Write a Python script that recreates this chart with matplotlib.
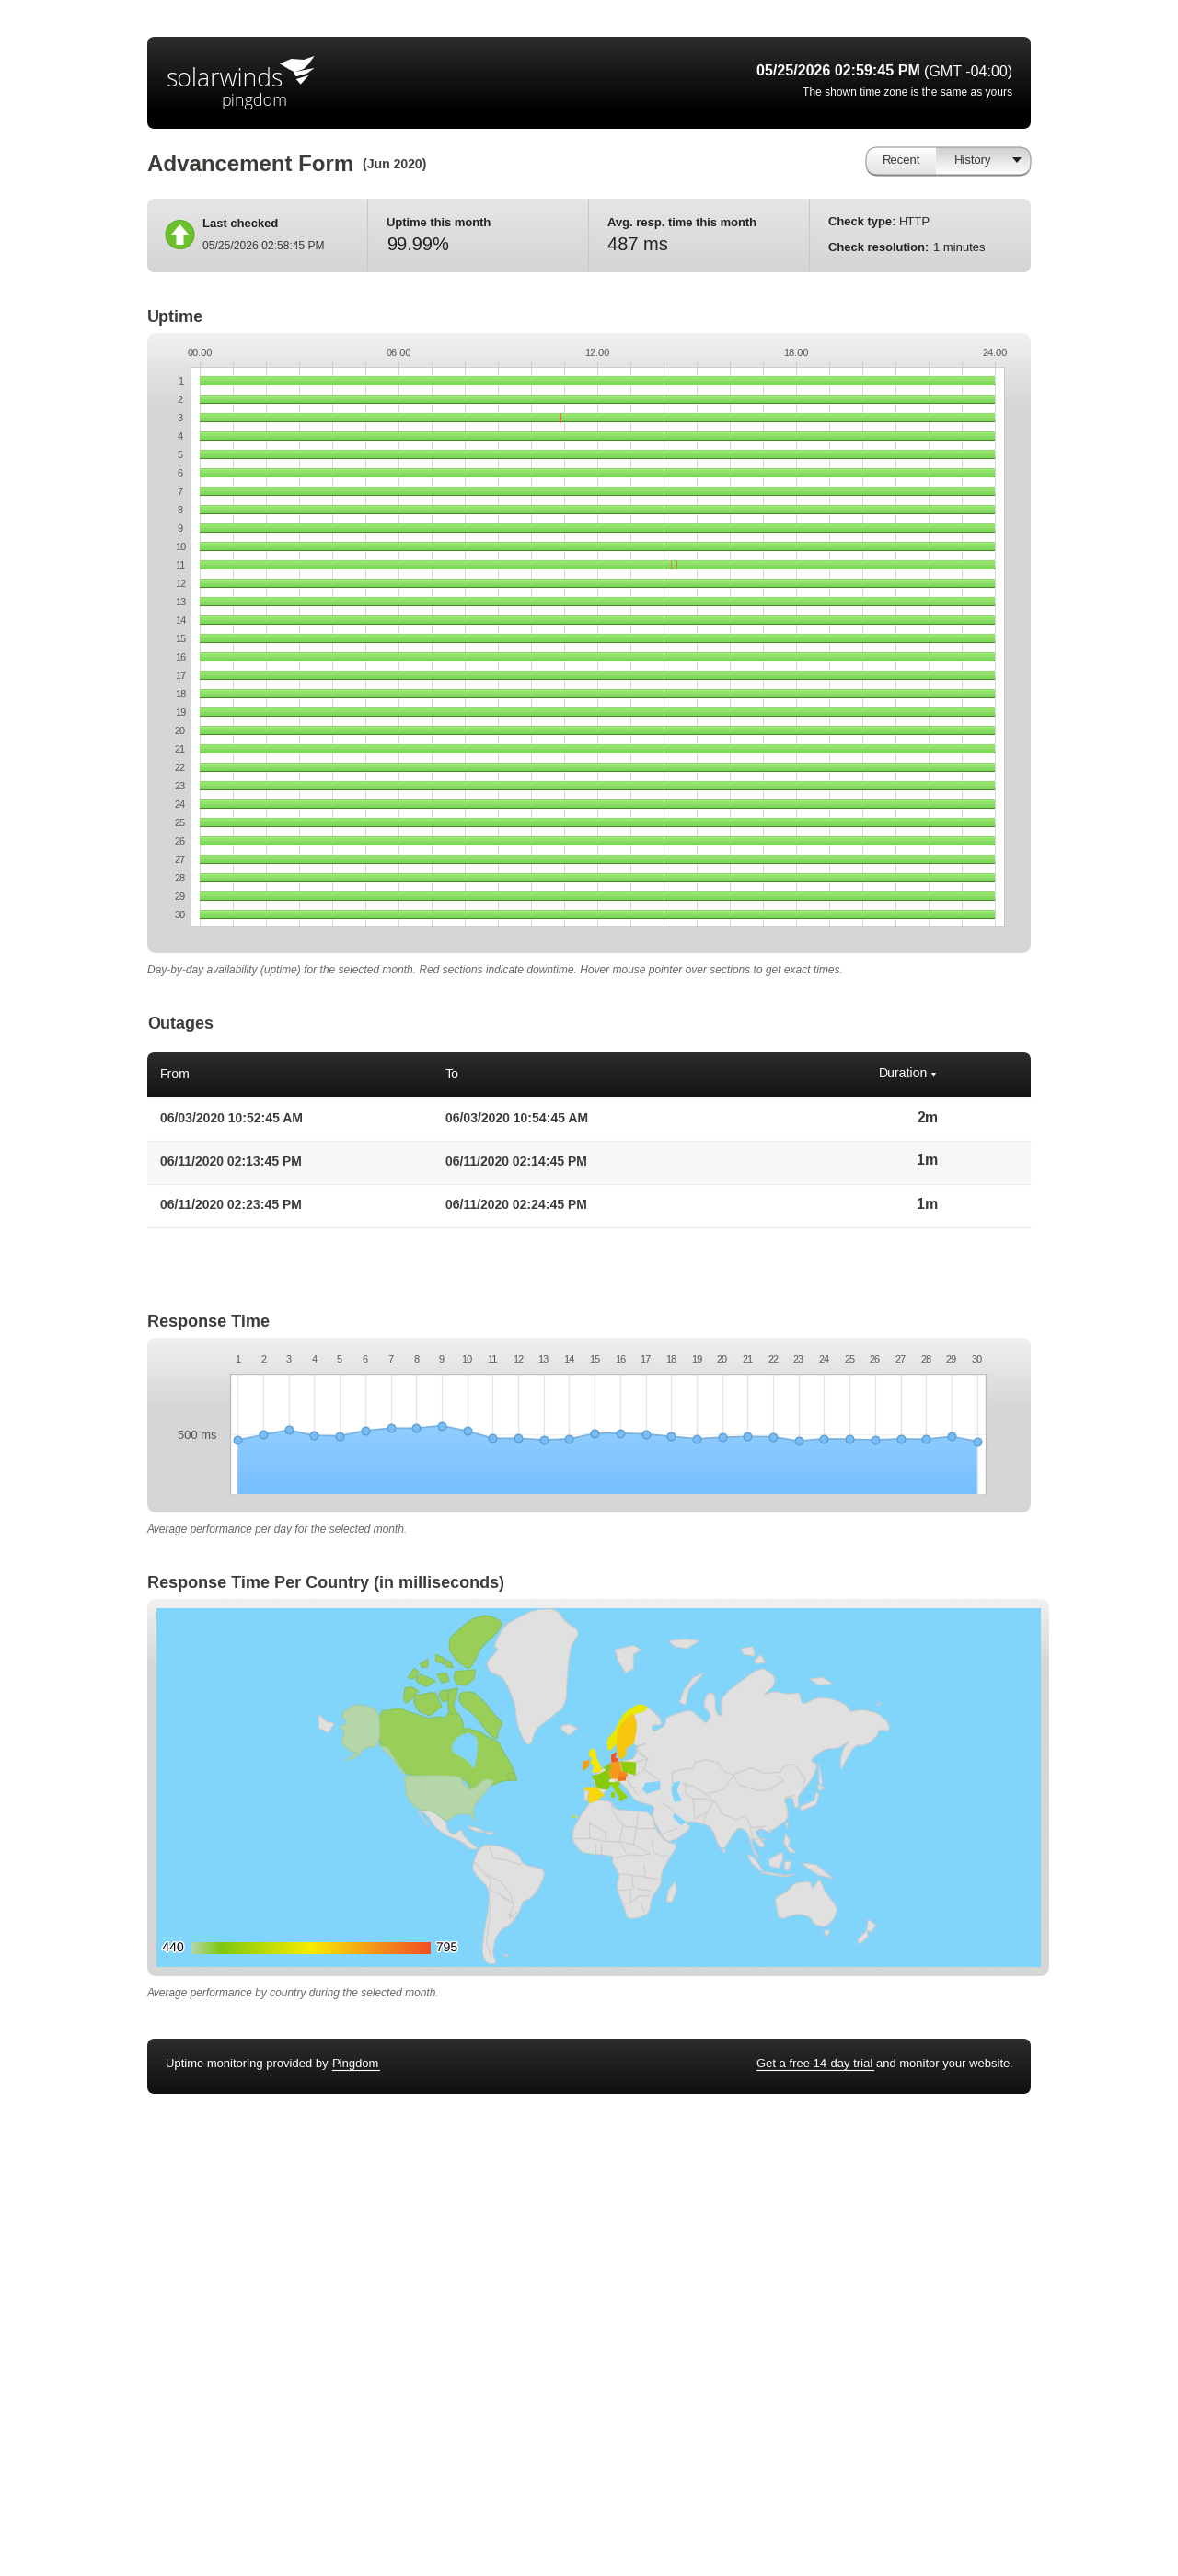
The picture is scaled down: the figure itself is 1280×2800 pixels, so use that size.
###########################
# Pingdom report: Jun 2020 #
###########################
import numpy as np
import pandas as pd
import matplotlib
matplotlib.use('Agg')
import matplotlib.pyplot as plt
from matplotlib.colors import LinearSegmentedColormap, Normalize, to_rgb
from matplotlib.patches import FancyBboxPatch, Polygon, Rectangle, Circle
import matplotlib.patheffects as pe

plt.rcParams['font.family'] = ['Liberation Sans', 'DejaVu Sans']

########
# Data #
########
days = list(range(1, 31))
hour_ticks = list(range(0, 25))
hour_labels = ['00:00', '06:00', '12:00', '18:00', '24:00']

outage_from = ['06/03/2020 10:52:45 AM', '06/11/2020 02:13:45 PM', '06/11/2020 02:23:45 PM']
outage_to = ['06/03/2020 10:54:45 AM', '06/11/2020 02:14:45 PM', '06/11/2020 02:24:45 PM']
outage_len = ['2m', '1m', '1m']

resp_ms = [454, 500, 539, 492, 490, 534, 554, 554, 575, 531,
           469, 469, 456, 464, 510, 513, 505, 485, 466, 477,
           485, 482, 446, 466, 461, 456, 464, 461, 485, 443]

legend_min = 440
legend_max = 795
country_names = ['usa', 'canada', 'norway', 'sweden', 'denmark', 'uk', 'ireland', 'germany',
                 'poland', 'france', 'benelux', 'spain', 'italy', 'austria', 'czech']
country_ms = [440, 463, 600, 660, 785, 625, 700, 705, 500, 490, 480, 640, 510, 755, 725]

#################
# Map outlines  #
#################
# each list is in the pixels of one crop
def z8(pts):
    return [(560 + x / 3, 1780 + y / 3) for x, y in pts]
def z9(pts):
    return [(340 + x / 3, 1740 + y / 3) for x, y in pts]
def z11(pts):
    return [(430 + x / 3, 1930 + y / 3) for x, y in pts]
def z12(pts):
    return [(720 + x / 3, 1790 + y / 3) for x, y in pts]

canada_parts = [
    z9([(217,360),(260,355),(285,350),(300,358),(345,372),(380,385),(400,378),(430,382),(445,360),(470,360),(490,395),
        (490,435),(520,420),(550,430),(580,450),(605,460),(620,490),(650,540),(665,585),(640,585),(610,590),(590,600),
        (550,605),(515,620),(505,590),(470,575),(440,572),(310,570),(285,540),(265,515),(245,490),(217,470)]),
    z9([(480,300),(520,295),(560,330),(590,370),(620,400),(605,420),(600,455),(570,430),(555,410),(525,370),(490,345),(475,320)]),
    z9([(330,310),(380,300),(400,300),(420,345),(380,375),(345,360),(330,335)]),
    z9([(300,285),(320,280),(345,295),(320,320),(305,335),(295,320)]),
    z9([(465,105),(515,60),(570,45),(620,70),(600,105),(550,150),(530,190),(510,225),(475,200),(445,165),(445,125),(458,110)]),
    z9([(465,230),(530,225),(525,255),(500,275),(470,275),(460,250)]),
    z9([(310,250),(330,220),(345,230),(335,250),(320,255)]),
    z9([(335,255),(350,240),(375,250),(400,262),(370,280),(340,265)]),
    z9([(400,175),(425,185),(428,208),(400,195)]),
    z9([(430,190),(450,200),(458,218),(435,215)]),
    z9([(350,205),(375,190),(375,215),(355,218)]),
    z9([(405,240),(435,235),(445,260),(420,268)]),
    z9([(415,295),(440,290),(440,325),(425,330),(412,310)]),
    z9([(445,290),(472,285),(465,320),(458,340),(470,370),(445,365),(440,345)]),
    z9([(495,415),(520,420),(510,440),(495,435)]),
    z9([(630,565),(655,560),(665,585),(640,585)]),
]
usa_parts = [
    z9([(217,355),(140,335),(90,370),(115,400),(85,410),(105,430),(90,465),(130,495),(150,490),(100,525),(150,505),(165,480),(217,472)]),
    z9([(217,472),(245,480),(270,520),(305,570),(285,550),(255,510)]),
    z11([(30,20),(35,70),(70,110),(120,115),(165,150),(200,125),(245,125),(258,150),(250,105),(300,45),(320,15),(290,12),(245,50),(220,25),(210,0),(30,0)]),
]
europe_parts = {
    'norway': [z8([(345,262),(365,240),(400,218),(430,225),(420,240),(395,245),(365,262),(340,300),(330,345),(305,372),(298,335),(325,305)])],
    'sweden': [z8([(365,262),(385,248),(395,290),(385,345),(360,360),(360,385),(340,397),(330,360),(335,300)])],
    'denmark': [z8([(313,385),(328,375),(325,395),(335,395),(330,405),(315,405)])],
    'uk': [z8([(245,365),(258,365),(262,390),(280,425),(278,435),(250,442),(258,420),(245,405),(255,395),(240,385)])],
    'ireland': [z8([(222,405),(240,400),(238,420),(222,432)])],
    'germany': [z8([(310,410),(340,405),(345,435),(358,450),(340,460),(310,458),(303,430)])],
    'poland': [z8([(345,405),(392,408),(390,447),(350,435)])],
    'france': [z8([(250,452),(275,445),(300,432),(310,460),(310,480),(300,495),(265,490),(262,470)])],
    'benelux': [z8([(290,425),(305,412),(310,430),(300,435)])],
    'spain': [z8([(225,490),(265,490),(285,510),(270,528),(245,538),(235,530),(238,500),(225,500)]),
              z8([(282,513),(290,513),(288,519)]), z8([(185,582),(190,582),(188,586)]), z8([(196,582),(201,582),(199,586)])],
    'italy': [z8([(310,470),(340,472),(335,490),(365,520),(345,528),(320,490)]),
              z8([(335,525),(352,522),(345,533)]), z8([(313,505),(320,505),(320,520),(313,520)])],
    'austria': [z8([(335,453),(360,450),(358,465),(335,466)])],
    'czech': [z8([(335,437),(362,440),(365,450),(335,451)])],
}
grey_parts = [
    # greenland
    z9([(720,30),(790,25),(825,70),(870,100),(840,150),(830,230),(825,340),(770,385),(725,420),(710,470),(690,462),(665,400),
        (660,340),(640,290),(620,250),(575,230),(565,200),(605,160),(590,145),(625,80),(670,55)]),
    # eurasia
    z8([(400,218),(430,225),(470,260),(478,285),(445,285),(448,310),(490,285),(490,262),(520,250),(570,235),(605,265),(620,280),
        (640,255),(612,220),(625,182),(650,182),(652,240),(672,262),(670,200),(705,165)])
    + z12([(320,65),(365,95),(365,125),(325,160),(360,145),(415,155),(445,148),(455,190),(505,165),(555,170),(600,190),(610,212),
           (650,205),(700,215),(738,250),(738,275),(705,270),(698,292),(665,320),(625,322),(595,375),(582,402),(580,365),(590,330),
           (612,305),(570,332),(530,332),(480,370),(505,385),(490,425),(460,465),(440,490),(445,520),(430,525),(425,490),(395,495),
           (405,520),(410,560),(370,590),(345,605),(320,590),(300,605),(335,650),(320,655),(290,620),(292,650),(318,695),(295,670),
           (280,610),(258,590),(240,595),(200,660),(185,655),(160,590),(130,575),(95,570),(75,572),(92,590),(50,625),(10,637)])
    + z11([(835,135),(845,100)])
    + z8([(405,535),(390,530),(365,495),(340,470),(325,465),(310,470),(300,495),(285,510),(270,530),(235,535),(225,490),(265,490),
          (250,455),(290,425),(305,412),(345,403),(385,395),(395,375),(398,355),(430,345),(385,355),(385,300),(395,280),(385,250)]),
    # mexico to panama, baja, cuba, hispaniola
    z11([(70,112),(120,115),(165,150),(165,175),(190,195),(215,175),(220,195),(240,215),(270,240),(245,240),(215,215),(165,195),(130,170),(100,125)]),
    z11([(75,115),(105,163),(85,135)]),
    z11([(232,165),(265,170),(290,185),(255,180)]),
    z11([(290,183),(325,187),(300,192)]),
    # south america, falklands
    z11([(270,240),(295,225),(350,232),(400,258),(415,290),(480,305),(485,325),(465,370),(440,400),(415,410),(400,450),(370,490),
         (345,500),(325,530),(315,580),(330,612),(300,615),(280,580),(290,500),(305,420),(305,370),(250,310),(255,280)]),
    z11([(352,585),(368,583),(360,592)]),
    # africa, madagascar
    z11([(640,80),(700,82),(715,110),(770,115),(830,120),(850,180),(880,215),(920,225),(885,280),(865,320),(865,355),(835,395),
         (825,450),(785,465),(755,465),(745,430),(720,365),(730,320),(705,280),(710,262),(640,255),(605,250),(575,210),(580,170),(610,120)]),
    z11([(910,345),(915,375),(900,412),(882,412),(888,375)]),
    # arctic bits
    z8([(150,288),(175,283),(203,295),(175,318),(150,300)]),
    z8([(325,40),(385,25),(410,40),(385,55),(385,100),(360,115),(335,75)]),
    z8([(500,10),(560,5),(600,10),(560,35),(520,30)]),
    z12([(135,85),(100,100),(70,140),(55,180),(75,190),(85,140)]),
    z12([(255,5),(295,0),(300,30),(265,25)]),
    z12([(300,45),(320,25),(335,50),(305,55)]),
    z12([(480,105),(520,100),(555,120),(510,125)]),
    z12([(697,188),(715,183),(702,192)]),
    z9([(18,370),(45,395),(70,400),(50,430),(20,415)]),
    # east and south east asia
    z12([(510,380),(520,440),(512,465),(510,420)]),
    z12([(505,450),(530,460),(510,470)]),
    z12([(500,475),(510,480),(500,515),(450,535),(450,520),(495,500)]),
    z12([(400,575),(410,572),(405,590)]),
    z12([(345,598),(355,595),(350,608)]),
    z12([(195,655),(205,665),(198,672)]),
    z12([(275,675),(300,690),(330,735),(318,730),(290,705)]),
    z12([(320,738),(400,750),(435,742),(395,745),(340,735)]),
    z12([(345,695),(390,670),(392,690),(380,722),(350,715)]),
    z12([(398,700),(420,700),(410,730),(397,725)]),
    z12([(455,705),(500,710),(555,755),(510,745),(470,720)]),
    z12([(400,610),(415,630),(410,650),(435,670),(415,670),(395,640)]),
    # australia, tasmania, new zealand
    z12([(365,820),(410,795),(430,770),(480,765),(490,790),(510,755),(530,800),(570,850),(560,885),(530,915),(495,905),(480,880),
         (440,870),(380,890),(372,850)]),
    z12([(525,925),(545,925),(535,947)]),
    z12([(670,888),(695,908),(680,930),(665,925)]),
    z12([(665,925),(670,945),(640,970),(636,955)]),
]
water_parts = [
    z9([(460,460),(480,440),(510,430),(535,450),(535,490),(530,520),(525,548),(515,530),(490,510),(460,495),(452,478)]),
    z8([(415,495),(425,475),(470,470),(470,495),(450,500),(430,508)]),
    z12([(35,445),(55,440),(45,470),(60,500),(40,505),(30,470)]),
    z12([(40,545),(75,572),(60,580),(35,555)]),
]
border_lines = [
    z11([(255,280),(290,320),(340,345),(370,380),(385,420),(370,465),(395,445)]),
    z11([(290,320),(310,340),(305,370),(370,405)]),
    z11([(300,225),(320,270),(360,275),(405,290)]),
    z11([(310,420),(305,470),(295,540),(310,590)]),
    z11([(345,395),(385,420)]),
    z11([(365,450),(390,470)]),
    z11([(700,85),(710,125),(745,165),(785,170),(790,120)]),
    z11([(630,150),(630,205),(580,205)]),
    z11([(630,155),(685,185),(685,215),(635,205)]),
    z11([(785,170),(845,170)]),
    z11([(785,170),(775,225),(830,255),(800,260),(760,258),(720,270)]),
    z11([(740,165),(730,215),(775,225)]),
    z11([(685,215),(730,215),(750,250)]),
    z11([(650,225),(650,255)]),
    z11([(670,225),(670,255)]),
    z11([(835,210),(840,250),(870,265),(885,260)]),
    z11([(725,320),(770,325),(810,330),(865,340)]),
    z11([(770,325),(775,370),(720,375)]),
    z11([(810,290),(815,335)]),
    z11([(765,375),(765,415),(745,420)]),
    z11([(765,415),(790,395),(830,390)]),
    z11([(790,370),(830,375)]),
    z11([(800,420),(810,445)]),
    z12([(30,410),(60,400),(100,395),(105,378),(140,368),(180,378),(200,405),(230,418),(260,405),(290,395),(330,412),(380,410),(400,385),(430,385),(465,430),(455,465)]),
    z12([(30,410),(30,440)]),
    z12([(230,420),(250,450),(310,470),(350,465),(395,435),(375,420)]),
    z12([(60,445),(75,450),(100,455),(140,480),(200,465),(230,420)]),
    z12([(140,480),(175,510),(195,545),(240,565),(270,550),(290,590),(335,585)]),
    z12([(100,495),(105,560),(145,540),(165,505),(135,495),(100,495)]),
    z12([(75,445),(75,480),(100,495)]),
    z12([(145,540),(135,570)]),
    z12([(285,590),(295,625),(345,630)]),
    z12([(315,590),(330,640)]),
    z12([(0,610),(50,590)]),
    z12([(0,510),(30,530),(40,545)]),
    z12([(400,490),(430,485)]),
    z8([(390,360),(430,395),(420,430),(470,465)]),
    z8([(420,430),(390,450),(365,460),(380,490),(400,490)]),
    z8([(430,395),(395,405)]),
    z8([(365,465),(395,510)]),
    z8([(395,375),(430,395)]),
]

####################
# Helper functions #
####################
fig = plt.figure(figsize=(12.8, 28), dpi=100, facecolor='white')
ax = fig.add_axes([0, 0, 1, 1])
ax.set_xlim(0, 1280)
ax.set_ylim(2800, 0)
ax.axis('off')
ax.autoscale(False)

def px(size):
    # font size given in screen pixels
    return size * 0.72

def grad_image(stops, n=128):
    pos = [s[0] for s in stops]
    cols = np.array([to_rgb(s[1]) for s in stops])
    t = np.linspace(0, 1, n)
    return np.stack([np.interp(t, pos, cols[:, i]) for i in range(3)], axis=1)[:, None, :]

def box(x0, y0, x1, y1, r, stops, zorder=1):
    # rounded box with a vertical gradient
    patch = FancyBboxPatch((x0, y0), x1 - x0, y1 - y0, boxstyle='round,pad=0,rounding_size=%g' % r,
                           fc='none', ec='none', zorder=zorder)
    ax.add_patch(patch)
    im = ax.imshow(grad_image(stops), extent=(x0, x1, y1, y0), aspect='auto', zorder=zorder, interpolation='bilinear')
    im.set_clip_path(patch)
    return patch

def tx(x, y, s, size=13, color='#222222', weight='normal', ha='left', style='normal', **kw):
    return ax.text(x, y, s, fontsize=px(size), color=color, fontweight=weight, ha=ha, va='center',
                   fontstyle=style, zorder=6, **kw)

def panel(x0, y0, x1, y1):
    h = y1 - y0
    return box(x0, y0, x1, y1, 10, [(0, '#f0f0f0'), (min(75 / h, 1), '#d6d6d6'), (1, '#d6d6d6')])

def inset(x0, y0, x1, y1):
    return fig.add_axes([x0 / 1280, 1 - y1 / 2800, (x1 - x0) / 1280, (y1 - y0) / 2800])

HEAD = '#3f3b38'

##########
# Header #
##########
box(160, 40, 1120, 140, 8, [(0, '#2e2e2e'), (0.8, '#000000'), (1, '#000000')])
tx(181, 87, 'solarwinds', size=26.5, color='white', family='Open Sans', weight='light')
tx(240, 110, 'pingdom', size=18, color='white', family='Open Sans', weight='light')
for shape in [[(402,58),(440,42),(480,45),(515,33),(495,60),(480,75),(450,85),(430,75)],
              [(447,85),(515,72),(490,90),(455,100)],
              [(455,108),(497,95),(470,125)]]:
    ax.add_patch(Polygon([(170 + x / 3, 50 + y / 3) for x, y in shape], fc='white', ec='none', zorder=6))
tx(1100, 78, '(GMT -04:00)', size=16, color='white', ha='right')
tx(1000, 78, '05/25/2026 02:59:45 PM', size=16, color='white', weight='bold', ha='right')
tx(1100, 101, 'The shown time zone is the same as yours', size=12, color='white', ha='right')

tx(160, 180, 'Advancement Form', size=24, color=HEAD, weight='bold')
tx(394, 179, '(Jun 2020)', size=14, color=HEAD, weight='bold')

# recent / history button
ax.add_patch(FancyBboxPatch((941, 162), 179, 29.5, boxstyle='round,pad=0,rounding_size=13', fc='#777777', ec='none', zorder=1))
btn = box(941, 160, 1120, 190, 13, [(0, '#ffffff'), (1, '#e2e2e2')], zorder=2)
btn.set_edgecolor('#999999')
btn.set_linewidth(0.8)
btn.set_zorder(4)
hist = ax.imshow(grad_image([(0, '#cfcfcf'), (1, '#ffffff')]), extent=(1017, 1120, 190, 160), aspect='auto', zorder=3)
hist.set_clip_path(btn)
tx(980, 175, 'Recent', size=13, color='#333333', ha='center')
tx(1057, 175, 'History', size=13, color='#333333', ha='center')
ax.add_patch(Polygon([(1100, 171), (1110, 171), (1105, 177)], fc='#222222', ec='none', zorder=6))

##############
# Info strip #
##############
box(160, 216, 1120, 296, 8, [(0, '#e6e6e6'), (1, '#d4d4d4')])
for x in [399, 639, 879]:
    ax.plot([x, x], [217, 295], color='#c8c8c8', lw=0.8, zorder=2)
ax.add_patch(Circle((195.5, 255), 15.5, fc='#6cc22c', ec='#58a820', lw=0.7, zorder=3))
ax.add_patch(Polygon([(195.5, 244), (205, 255), (199.5, 255), (199.5, 266), (191.5, 266), (191.5, 255), (186, 255)],
                     fc='white', ec='none', zorder=4))
tx(220, 244, 'Last checked', weight='bold')
tx(220, 268, '05/25/2026 02:58:45 PM', size=12, color='#333333')
tx(420, 243, 'Uptime this month', weight='bold')
tx(420, 266, '99.99%', size=20)
tx(660, 243, 'Avg. resp. time this month', weight='bold')
tx(660, 266, '487 ms', size=20)
tx(900, 242, 'Check type:', weight='bold')
tx(977, 242, 'HTTP')
tx(900, 270, 'Check resolution:', weight='bold')
tx(1014, 270, '1 minutes')

################
# Uptime chart #
################
tx(160, 345, 'Uptime', size=18, color=HEAD, weight='bold')
panel(160, 362, 1120, 1036)

ax_up = inset(207, 399, 1091, 1007)
ax_up.set_xlim(-10 / 36, 874 / 36)
ax_up.set_ylim(1 + 593 / 20, 1 - 15 / 20)
ax_up.autoscale(False)
for s in ax_up.spines.values():
    s.set_color('#cccccc')
    s.set_linewidth(0.7)
ax_up.set_xticks(hour_ticks)
ax_up.set_xticklabels([hour_labels[h // 6] if h % 6 == 0 else '' for h in hour_ticks])
ax_up.xaxis.tick_top()
ax_up.set_yticks(days)
ax_up.tick_params(axis='x', length=5, width=0.7, color='#cccccc', labelsize=px(11), labelcolor='#555555', pad=2.5)
ax_up.tick_params(axis='y', length=0, labelsize=px(11), labelcolor='#555555', pad=8)
for lab in ax_up.get_yticklabels():
    lab.set_ha('center')
ax_up.grid(axis='x', color='#d4d4d4', lw=0.7, zorder=1)
ax_up.set_axisbelow(True)

bars = ax_up.barh(days, 24, height=0.475, color='#468c18', zorder=2)
bar_grad = grad_image([(0, '#74cb57'), (0.1, '#a0ec74'), (1, '#7ad25e')])
for b in bars:
    ax_up.imshow(bar_grad, extent=(0, 24, b.get_y() + b.get_height() * 0.9, b.get_y()), aspect='auto', zorder=3)

# downtime comes straight from the outage table
t_from = pd.to_datetime(pd.Series(outage_from), format='%m/%d/%Y %I:%M:%S %p')
t_to = pd.to_datetime(pd.Series(outage_to), format='%m/%d/%Y %I:%M:%S %p')
start_h = t_from.dt.hour + t_from.dt.minute / 60
end_h = t_to.dt.hour + t_to.dt.minute / 60
ax_up.barh(t_from.dt.day, end_h - start_h, left=start_h, height=0.475, color='#e8603c',
           ec='#e8603c', lw=0.5, zorder=4)

tx(160, 1055, 'Day-by-day availability (uptime) for the selected month. Red sections indicate downtime. '
   'Hover mouse pointer over sections to get exact times.', size=12, color='#666666', style='italic')

###########
# Outages #
###########
tx(160, 1114, 'Outages', size=18, color=HEAD, weight='bold')
box(160, 1144, 1120, 1206, 8, [(0, '#2c2c2c'), (48 / 62, '#151515'), (1, '#151515')])
ax.add_patch(Rectangle((160, 1192), 960, 20, fc='white', ec='none', zorder=2))
ax.plot([160, 1120], [1192.5, 1192.5], color='#eeeeee', lw=1, zorder=3)
tx(174, 1168, 'From', size=14, color='white')
tx(484, 1168, 'To', size=14, color='white')
tx(955, 1167, 'Duration', size=14, color='white')
ax.add_patch(Polygon([(1012, 1166), (1017, 1166), (1014.5, 1171)], fc='white', ec='none', zorder=6))

row_y = [1216, 1263, 1310]
ax.add_patch(Rectangle((160, 1240), 960, 46, fc='#f7f7f7', ec='none', zorder=2))
for y, a, b_txt, d in zip(row_y, outage_from, outage_to, outage_len):
    tx(174, y, a, size=14, color='#3a3a3a', weight='bold')
    tx(484, y, b_txt, size=14, color='#3a3a3a', weight='bold')
    tx(1008, y - 1, d, size=16, color='#3a3a3a', weight='bold', ha='center')
    ax.plot([160, 1120], [y + 23.5, y + 23.5], color='#eeeeee', lw=1, zorder=3)

#################
# Response time #
#################
tx(160, 1437, 'Response Time', size=18, color=HEAD, weight='bold')
panel(160, 1454, 1120, 1644)

ax_rt = inset(250.3, 1494.3, 1070.7, 1624)
ax_rt.set_xlim(1 - 8 / 27.7, 30 + 9 / 27.7)
ax_rt.set_ylim(0, 1003)
ax_rt.autoscale(False)
ax_rt.spines['bottom'].set_visible(False)
for side in ['top', 'left', 'right']:
    ax_rt.spines[side].set_color('#b8b8b8')
    ax_rt.spines[side].set_linewidth(0.9)
ax_rt.set_xticks(days)
ax_rt.xaxis.tick_top()
ax_rt.set_yticks([500])
ax_rt.set_yticklabels(['500 ms'])
ax_rt.tick_params(axis='x', length=0, labelsize=px(11), labelcolor='#555555', pad=8)
ax_rt.tick_params(axis='y', length=0, labelsize=px(13), labelcolor='#555555', pad=11)
ax_rt.grid(axis='x', color='#e4e4e4', lw=0.9)
ax_rt.grid(axis='y', color='#f0f0f0', lw=0.7)
ax_rt.set_axisbelow(True)

area = ax_rt.fill_between(days, resp_ms, 0, color='none', zorder=2)
top = 600
area_img = ax_rt.imshow(grad_image([(0, '#8ecdff'), (1, '#70bcff')]), extent=(1, 30, 0, top), aspect='auto', zorder=2, alpha=0.96)
area_img.set_clip_path(area.get_paths()[0], transform=ax_rt.transData)
ax_rt.plot(days, resp_ms, color='#7ab3e0', lw=1.3, zorder=3, clip_on=False,
           marker='o', ms=6.3, mfc='#76bcf6', mec='#5c9ccf', mew=0.9)

tx(160, 1663, 'Average performance per day for the selected month.', size=12, color='#666666', style='italic')

#######
# Map #
#######
tx(160, 1722, 'Response Time Per Country (in milliseconds)', size=18, color=HEAD, weight='bold')
box(160, 1738, 1140, 2148, 10, [(0, '#f0f0f0'), (0.18, '#d6d6d6'), (1, '#d6d6d6')])
BLUE = '#81d4fa'
sea = Rectangle((170, 1748), 961, 390, fc=BLUE, ec='none', zorder=2)
ax.add_patch(sea)

cmap = LinearSegmentedColormap.from_list('geo', [(0, '#b5d6a8'), (0.12, '#7fc80f'), (0.5, '#f8ec00'),
                                                 (0.75, '#f59a1a'), (1, '#f25022')])
norm = Normalize(legend_min, legend_max)

def soften(pts):
    # cut the corners of the long outlines, the traced ones look too angular
    if len(pts) < 9:
        return pts
    out = []
    for i, (x0, y0) in enumerate(pts):
        x1, y1 = pts[(i + 1) % len(pts)]
        out.append((0.8 * x0 + 0.2 * x1, 0.8 * y0 + 0.2 * y1))
        out.append((0.2 * x0 + 0.8 * x1, 0.2 * y0 + 0.8 * y1))
    return out

def land(pts, fc, ec):
    p = Polygon(soften(pts), closed=True, fc=fc, ec=ec, lw=0.8, zorder=3, joinstyle='round')
    ax.add_patch(p)
    p.set_clip_path(sea)

for pts in grey_parts:
    land(pts, '#e0e0e0', '#cccccc')
for pts in water_parts:
    land(pts, BLUE, BLUE)
for pts in border_lines:
    xs, ys = zip(*pts)
    ax.plot(xs, ys, color='#cccccc', lw=0.8, zorder=3)

ms_by_name = dict(zip(country_names, country_ms))
for pts in canada_parts:
    land(pts, cmap(norm(ms_by_name['canada'])), '#88c060')
for pts in water_parts[:1]:
    land(pts, BLUE, BLUE)
for pts in usa_parts:
    land(pts, cmap(norm(ms_by_name['usa'])), '#a8cc9c')
for name, parts in europe_parts.items():
    col = cmap(norm(ms_by_name[name]))
    for pts in parts:
        land(pts, col, col)
land(z8([(305,462),(325,462),(325,468),(305,468)]), '#eeeeee', '#dddddd')
land(z8([(225,500),(238,500),(235,530),(225,530)]), '#e0e0e0', '#cccccc')

# legend
ax.imshow(np.linspace(legend_min, legend_max, 256)[None, :], cmap=cmap, norm=norm, extent=(207.5, 467, 2124, 2111),
          aspect='auto', zorder=4)
halo = [pe.withStroke(linewidth=2.2, foreground='white')]
tx(188, 2117, str(legend_min), size=14, color='black', ha='center', path_effects=halo)
tx(485.5, 2117, str(legend_max), size=14, color='black', ha='center', path_effects=halo)

tx(160, 2167, 'Average performance by country during the selected month.', size=12, color='#666666', style='italic')

##########
# Footer #
##########
box(160, 2216, 1120, 2276, 8, [(0, '#2c2c2c'), (1, '#101010')])
tx(180.5, 2244, 'Uptime monitoring provided by', size=13, color='white')
tx(360.5, 2244, 'Pingdom', size=13, color='white')
ax.plot([360.5, 411.5], [2250, 2250], color='white', lw=0.8, zorder=6)
tx(822, 2244, 'Get a free 14-day trial', size=13, color='white')
ax.plot([822, 948.5], [2250, 2250], color='white', lw=0.8, zorder=6)
tx(1101, 2244, 'and monitor your website.', size=13, color='white', ha='right')

fig.savefig('out.png', dpi=100, facecolor='white')
